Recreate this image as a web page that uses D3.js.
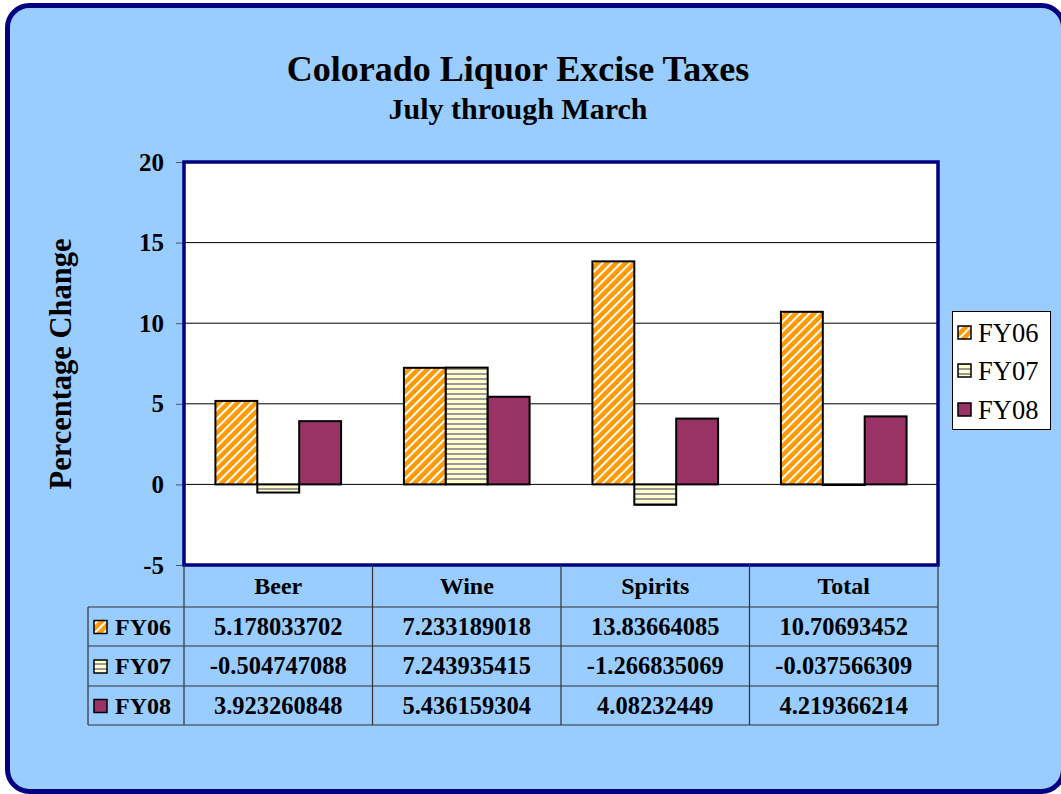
<!DOCTYPE html>
<html><head><meta charset="utf-8">
<script src="https://cdn.jsdelivr.net/npm/d3@7"></script>
<style>html,body{margin:0;padding:0;background:#fff;}svg{display:block;}</style>
</head><body>
<script>
const categories = ["Beer", "Wine", "Spirits", "Total"];
const seriesNames = ["FY06", "FY07", "FY08"];
const fy06 = [5.178033702, 7.233189018, 13.83664085, 10.70693452];
const fy07 = [-0.504747088, 7.243935415, -1.266835069, -0.037566309];
const fy08 = [3.923260848, 5.436159304, 4.08232449, 4.219366214];
const yTicks = [-5, 0, 5, 10, 15, 20];
const titleText = "Colorado Liquor Excise Taxes";
const subtitleText = "July through March";
const yTitle = "Percentage Change";

const seriesValues = [fy06, fy07, fy08];
const fills = ["url(#pFY06)", "url(#pFY07)", "#993366"];
const FONT = "Liberation Serif, Times New Roman, serif";

const W = 1061, H = 794;
const svg = d3.select("body").append("svg").attr("width", W).attr("height", H);

// patterns
const defs = svg.append("defs");
const p1 = defs.append("pattern").attr("id", "pFY06").attr("patternUnits", "userSpaceOnUse")
  .attr("width", 6.5).attr("height", 6.5).attr("patternTransform", "rotate(45)");
p1.append("rect").attr("width", 6.5).attr("height", 6.5).attr("fill", "#FF9900");
p1.append("rect").attr("width", 2).attr("height", 6.5).attr("fill", "#FFFFFF");
const p2 = defs.append("pattern").attr("id", "pFY07").attr("patternUnits", "userSpaceOnUse")
  .attr("width", 6).attr("height", 5);
p2.append("rect").attr("width", 6).attr("height", 5).attr("fill", "#FFFFCC");
p2.append("rect").attr("y", 3).attr("width", 6).attr("height", 2).attr("fill", "#999999");

// outer frame
svg.append("rect").attr("x", 7.5).attr("y", 5.5).attr("width", 1056).attr("height", 786)
  .attr("rx", 22).attr("ry", 22).attr("fill", "#99CCFF").attr("stroke", "#000080").attr("stroke-width", 5);

// titles
svg.append("text").attr("x", 518).attr("y", 81).attr("text-anchor", "middle")
  .attr("font-family", FONT).attr("font-weight", "bold").attr("font-size", 36).text(titleText);
svg.append("text").attr("x", 518).attr("y", 119).attr("text-anchor", "middle")
  .attr("font-family", FONT).attr("font-weight", "bold").attr("font-size", 30).text(subtitleText);

// plot geometry
const L = 184, R = 938, T = 162, B = 565;
const x = d3.scaleBand().domain(categories).range([L, R]).paddingInner(0).paddingOuter(0);
const groupW = x.bandwidth() * 3 / 4.5;
const xs = d3.scaleBand().domain(seriesNames)
  .range([(x.bandwidth() - groupW) / 2, (x.bandwidth() + groupW) / 2]).padding(0);
const y = d3.scaleLinear().domain([-5, 20]).range([B, T]);

svg.append("rect").attr("x", L).attr("y", T).attr("width", R - L).attr("height", B - T).attr("fill", "#FFFFFF");

// gridlines
svg.append("g").selectAll("line").data(yTicks.filter(d => d > -5 && d < 20)).join("line")
  .attr("x1", L).attr("x2", R).attr("y1", d => y(d)).attr("y2", d => y(d))
  .attr("stroke", "#000").attr("stroke-width", 1);

// bars
seriesNames.forEach((s, si) => {
  svg.append("g").selectAll("rect").data(categories.map((c, ci) => ({ c, v: seriesValues[si][ci] }))).join("rect")
    .attr("x", d => x(d.c) + xs(s))
    .attr("width", xs.bandwidth())
    .attr("y", d => y(Math.max(0, d.v)))
    .attr("height", d => Math.abs(y(d.v) - y(0)))
    .attr("fill", fills[si]).attr("stroke", "#000").attr("stroke-width", 2);
});

// y axis
const yAxis = d3.axisLeft(y).tickValues(yTicks).tickSize(8).tickPadding(12).tickFormat(d => String(d));
const ga = svg.append("g").attr("transform", `translate(${L},0)`).call(yAxis);
ga.select(".domain").remove();
ga.selectAll(".tick line").attr("stroke", "#555");
ga.selectAll(".tick text").attr("font-family", FONT).attr("font-weight", "bold").attr("font-size", 25).attr("fill", "#000");

// plot border
svg.append("rect").attr("x", L).attr("y", T).attr("width", R - L).attr("height", B - T)
  .attr("fill", "none").attr("stroke", "#000080").attr("stroke-width", 3.5);

// y title
svg.append("text").attr("transform", "translate(71,364) rotate(-90)").attr("text-anchor", "middle")
  .attr("font-family", FONT).attr("font-weight", "bold").attr("font-size", 30.5).text(yTitle);

// data table
const rowTop = [567, 607, 646, 686], rowBot = 725, tblL = 88;
const tbl = svg.append("g");
const lineC = "#333";
[L, ...categories.map(c => x(c) + x.bandwidth())].forEach(xx => {
  tbl.append("line").attr("x1", xx).attr("x2", xx).attr("y1", B).attr("y2", rowBot).attr("stroke", lineC).attr("stroke-width", 1.2);
});
tbl.append("line").attr("x1", tblL).attr("x2", tblL).attr("y1", rowTop[1]).attr("y2", rowBot).attr("stroke", lineC).attr("stroke-width", 1.2);
[rowTop[1], rowTop[2], rowTop[3], rowBot].forEach(yy => {
  tbl.append("line").attr("x1", tblL).attr("x2", R).attr("y1", yy).attr("y2", yy).attr("stroke", lineC).attr("stroke-width", 1.2);
});
tbl.selectAll("text.hdr").data(categories).join("text").attr("class", "hdr")
  .attr("x", d => x(d) + x.bandwidth() / 2).attr("y", 594).attr("text-anchor", "middle")
  .attr("font-family", FONT).attr("font-weight", "bold").attr("font-size", 24).text(d => d);
seriesNames.forEach((s, si) => {
  const cy = (rowTop[si + 1] + (si < 2 ? rowTop[si + 2] : rowBot)) / 2;
  tbl.append("rect").attr("x", 94).attr("y", cy - 6).attr("width", 13).attr("height", 13)
    .attr("fill", fills[si]).attr("stroke", "#000").attr("stroke-width", 1.5);
  tbl.append("text").attr("x", 115).attr("y", cy + 8).attr("font-family", FONT).attr("font-weight", "bold")
    .attr("font-size", 24).text(s);
  categories.forEach((c, ci) => {
    tbl.append("text").attr("x", x(c) + x.bandwidth() / 2).attr("y", cy + 8).attr("text-anchor", "middle")
      .attr("font-family", FONT).attr("font-weight", "bold").attr("font-size", 24.5)
      .text(String(seriesValues[si][ci]));
  });
});

// legend
const lg = svg.append("g");
lg.append("rect").attr("x", 952.5).attr("y", 311.5).attr("width", 98).attr("height", 118)
  .attr("fill", "#FFFFFF").attr("stroke", "#000").attr("stroke-width", 1);
const legY = [333, 371, 410];
seriesNames.forEach((s, si) => {
  lg.append("rect").attr("x", 958).attr("y", legY[si] - 7).attr("width", 13).attr("height", 13)
    .attr("fill", fills[si]).attr("stroke", "#000").attr("stroke-width", 1.5);
  lg.append("text").attr("x", 978).attr("y", legY[si] + 9).attr("font-family", FONT).attr("font-size", 26.5).text(s);
});
</script>
</body></html>
